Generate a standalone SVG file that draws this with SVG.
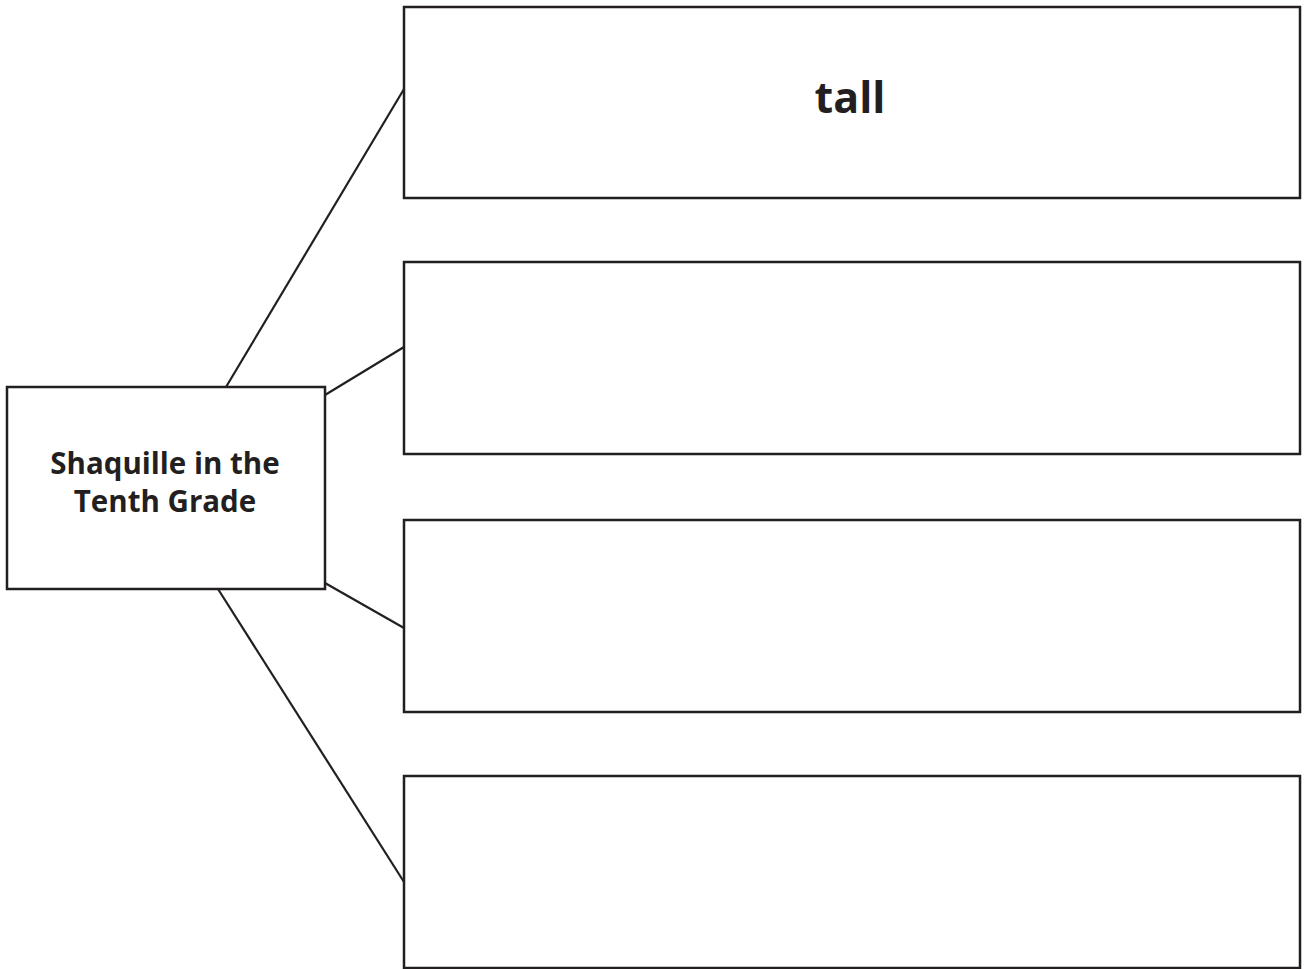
<svg xmlns="http://www.w3.org/2000/svg" width="1304" height="969" viewBox="0 0 1304 969">
<style>
.box{fill:#fff;stroke:#231f20;stroke-width:2.5}
.con{stroke:#231f20;stroke-width:2.2;fill:none}
.t{font-family:"Open Sans","Noto Sans",sans-serif;font-weight:bold;fill:#231f20;text-anchor:middle}
</style>
<rect width="1304" height="969" fill="#fff"/>
<g id="connectors">
<line class="con" x1="226" y1="387" x2="404" y2="89"/>
<line class="con" x1="325" y1="395" x2="404" y2="347"/>
<line class="con" x1="325" y1="583" x2="404" y2="628"/>
<line class="con" x1="218" y1="589" x2="404" y2="882"/>
</g>
<g id="center">
<rect class="box" x="7" y="387" width="318" height="202"/>
<text class="t" x="165" y="474" font-size="29.5">Shaquille in the</text>
<text class="t" x="165" y="512" font-size="29.5">Tenth Grade</text>
</g>
<g id="box1">
<rect class="box" x="404" y="7" width="896" height="191"/>
<text class="t" x="850" y="113" font-size="43">tall</text>
</g>
<g id="box2">
<rect class="box" x="404" y="262" width="896" height="192"/>
</g>
<g id="box3">
<rect class="box" x="404" y="520" width="896" height="192"/>
</g>
<g id="box4">
<rect class="box" x="404" y="776" width="896" height="192"/>
</g>
</svg>
